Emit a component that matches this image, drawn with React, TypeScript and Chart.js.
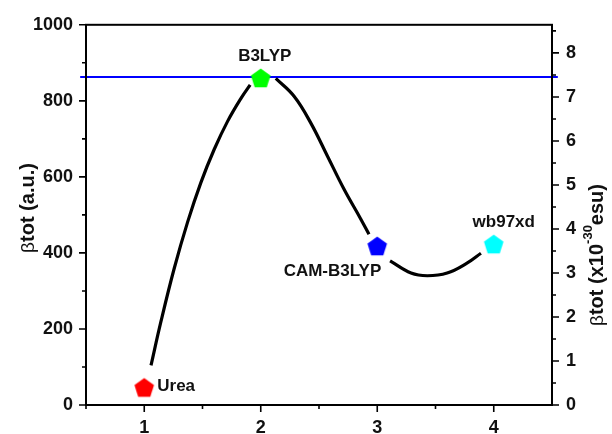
import React, { useEffect, useRef } from 'react';
import { Chart, registerables } from 'chart.js';

Chart.register(...registerables);

// ---- Data ----
const methods = ['Urea', 'B3LYP', 'CAM-B3LYP', 'wb97xd'];
const methodX = [1, 2, 3, 4];
const betaAU = [46, 860, 418, 423];
const markerColors = ['#ff0000', '#00ff00', '#0000ff', '#00ffff'];
const refLevel = 863;

// fitted curve, drawn in three pieces with gaps at the symbols
const curve1X = [1.058, 1.143, 1.257, 1.372, 1.486, 1.6, 1.715, 1.829, 1.909];
const curve1Y = [104, 219, 359, 481, 585, 672, 746, 806, 842];
const curve2X = [2.129, 2.286, 2.429, 2.572, 2.714, 2.857, 2.929];
const curve2Y = [859, 812, 742, 655, 568, 490, 449];
const curve3X = [3.11, 3.29, 3.43, 3.6, 3.77, 3.89];
const curve3Y = [379, 347, 340, 347, 373, 399];

const xTicks = [1, 2, 3, 4];
const xMinorTicks = [1.5, 2.5, 3.5];
const leftTicks = [0, 200, 400, 600, 800, 1000];
const leftMinorTicks = [100, 300, 500, 700, 900];
const rightTicks = [0, 1, 2, 3, 4, 5, 6, 7, 8];
const rightMinorTicks = [0.5, 1.5, 2.5, 3.5, 4.5, 5.5, 6.5, 7.5, 8.5];
const auToEsu = 0.008639; // 1 a.u. = 0.008639 x10^-30 esu

const FONT = '"Liberation Sans", Arial, sans-serif';

function pentagon(color: string): HTMLCanvasElement {
  const c = document.createElement('canvas');
  c.width = 24;
  c.height = 24;
  const ctx = c.getContext('2d')!;
  const r = 10.3;
  const cx = 12;
  const cy = 12.8;
  ctx.beginPath();
  for (let i = 0; i < 5; i++) {
    const a = -Math.PI / 2 + (i * 2 * Math.PI) / 5;
    const px = cx + r * Math.cos(a);
    const py = cy + r * Math.sin(a);
    if (i === 0) ctx.moveTo(px, py);
    else ctx.lineTo(px, py);
  }
  ctx.closePath();
  ctx.fillStyle = color;
  ctx.fill();
  return c;
}

const toPts = (xs: number[], ys: number[]) => xs.map((x, i) => ({ x, y: ys[i] }));

const framePlugin = {
  id: 'frame',
  afterDraw(chart: any) {
    const { ctx, chartArea: ca, scales } = chart;
    const { left, right, top, bottom } = ca;
    ctx.save();
    ctx.strokeStyle = '#000';
    ctx.lineWidth = 2;
    ctx.strokeRect(left, top, right - left, bottom - top);
    ctx.lineWidth = 1.6;
    ctx.beginPath();
    xTicks.forEach((v) => {
      const p = scales.x.getPixelForValue(v);
      ctx.moveTo(p, bottom);
      ctx.lineTo(p, bottom + 7);
    });
    xMinorTicks.forEach((v) => {
      const p = scales.x.getPixelForValue(v);
      ctx.moveTo(p, bottom);
      ctx.lineTo(p, bottom + 4);
    });
    ctx.moveTo(left, bottom);
    ctx.lineTo(left, bottom + 4);
    leftTicks.forEach((v) => {
      const p = scales.y.getPixelForValue(v);
      ctx.moveTo(left, p);
      ctx.lineTo(left - 7, p);
    });
    leftMinorTicks.forEach((v) => {
      const p = scales.y.getPixelForValue(v);
      ctx.moveTo(left, p);
      ctx.lineTo(left - 4, p);
    });
    rightTicks.forEach((v) => {
      const p = scales.y2.getPixelForValue(v);
      ctx.moveTo(right, p);
      ctx.lineTo(right + 7, p);
    });
    rightMinorTicks.forEach((v) => {
      const p = scales.y2.getPixelForValue(v);
      ctx.moveTo(right, p);
      ctx.lineTo(right + 4, p);
    });
    ctx.stroke();

    // point labels
    const meta = chart.getDatasetMeta(0);
    const pts = meta.data;
    ctx.fillStyle = '#111';
    ctx.font = `bold 17px ${FONT}`;
    ctx.textBaseline = 'middle';
    const offsets = [
      { dx: 13, dy: -1, align: 'left' },
      { dx: 4, dy: -22, align: 'center' },
      { dx: 4, dy: 25, align: 'right' },
      { dx: 10, dy: -22, align: 'center' },
    ];
    methods.forEach((m, i) => {
      const p = pts[i];
      const o = offsets[i];
      ctx.textAlign = o.align;
      ctx.fillText(m, p.x + o.dx, p.y + o.dy);
    });

    // axis titles
    const drawRotated = (cx: number, cy: number, parts: { t: string; f: string; dy?: number }[]) => {
      ctx.save();
      ctx.translate(cx, cy);
      ctx.rotate(-Math.PI / 2);
      ctx.textAlign = 'left';
      ctx.textBaseline = 'middle';
      let total = 0;
      parts.forEach((pt) => {
        ctx.font = pt.f;
        total += ctx.measureText(pt.t).width;
      });
      let x = -total / 2;
      parts.forEach((pt) => {
        ctx.font = pt.f;
        ctx.fillText(pt.t, x, pt.dy || 0);
        x += ctx.measureText(pt.t).width;
      });
      ctx.restore();
    };
    ctx.fillStyle = '#111';
    drawRotated(28, 208, [
      { t: 'β', f: `19px ${FONT}`, dy: 1 },
      { t: 'tot (a.u.)', f: `bold 20px ${FONT}` },
    ]);
    drawRotated(597, 255, [
      { t: 'β', f: `19px ${FONT}`, dy: 1 },
      { t: 'tot (x10', f: `bold 20px ${FONT}` },
      { t: '-30', f: `bold 13px ${FONT}`, dy: -9 },
      { t: 'esu)', f: `bold 20px ${FONT}` },
    ]);
    ctx.restore();
  },
};

export default function App() {
  const ref = useRef<HTMLCanvasElement | null>(null);

  useEffect(() => {
    if (!ref.current) return;
    const markerImgs = markerColors.map((c) => pentagon(c));
    const tickFont = { family: FONT, size: 18, weight: 'bold' as const };
    const curveStyle = {
      showLine: true,
      borderColor: '#000',
      borderWidth: 3.2,
      pointRadius: 0,
      tension: 0.4,
      yAxisID: 'y',
    };
    const chart = new Chart(ref.current, {
      type: 'scatter',
      data: {
        datasets: [
          {
            label: 'methods',
            data: toPts(methodX, betaAU),
            pointStyle: markerImgs as any,
            pointRadius: 10,
            showLine: false,
            yAxisID: 'y',
          },
          { label: 'fit1', data: toPts(curve1X, curve1Y), ...curveStyle },
          { label: 'fit2', data: toPts(curve2X, curve2Y), ...curveStyle },
          { label: 'fit3', data: toPts(curve3X, curve3Y), ...curveStyle },
          {
            label: 'ref',
            data: [
              { x: 0.45, y: refLevel },
              { x: 4.55, y: refLevel },
            ],
            showLine: true,
            borderColor: '#0000ff',
            borderWidth: 2,
            pointRadius: 0,
            clip: false as any,
            yAxisID: 'y',
          },
        ],
      },
      options: {
        responsive: false,
        animation: false,
        layout: { padding: { top: 21, left: 0, right: 0, bottom: 0 } },
        plugins: { legend: { display: false }, tooltip: { enabled: false } },
        scales: {
          x: {
            type: 'linear',
            min: 0.5,
            max: 4.5,
            grid: { display: false, drawTicks: false },
            border: { display: false },
            afterBuildTicks: (s: any) => {
              s.ticks = xTicks.map((v) => ({ value: v }));
            },
            afterFit: (s: any) => {
              s.height = 29;
            },
            ticks: { color: '#111', font: tickFont, padding: 12, maxRotation: 0, callback: (v: any) => String(v) },
          },
          y: {
            type: 'linear',
            position: 'left',
            min: 0,
            max: 1000,
            grid: { display: false, drawTicks: false },
            border: { display: false },
            afterBuildTicks: (s: any) => {
              s.ticks = leftTicks.map((v) => ({ value: v }));
            },
            afterFit: (s: any) => {
              s.width = 86;
            },
            ticks: { color: '#111', font: tickFont, padding: 13, callback: (v: any) => String(v) },
          },
          y2: {
            type: 'linear',
            position: 'right',
            min: 0,
            max: 1000 * auToEsu,
            grid: { display: false, drawTicks: false },
            border: { display: false },
            afterBuildTicks: (s: any) => {
              s.ticks = rightTicks.map((v) => ({ value: v }));
            },
            afterFit: (s: any) => {
              s.width = 60;
            },
            ticks: { color: '#111', font: tickFont, padding: 14, callback: (v: any) => String(v) },
          },
        },
      },
      plugins: [framePlugin],
    });
    return () => chart.destroy();
  }, []);

  return (
    <div style={{ position: 'absolute', left: 0, top: 0, width: 612, height: 434, background: '#fff' }}>
      <canvas ref={ref} width={612} height={434} style={{ display: 'block' }} />
    </div>
  );
}
